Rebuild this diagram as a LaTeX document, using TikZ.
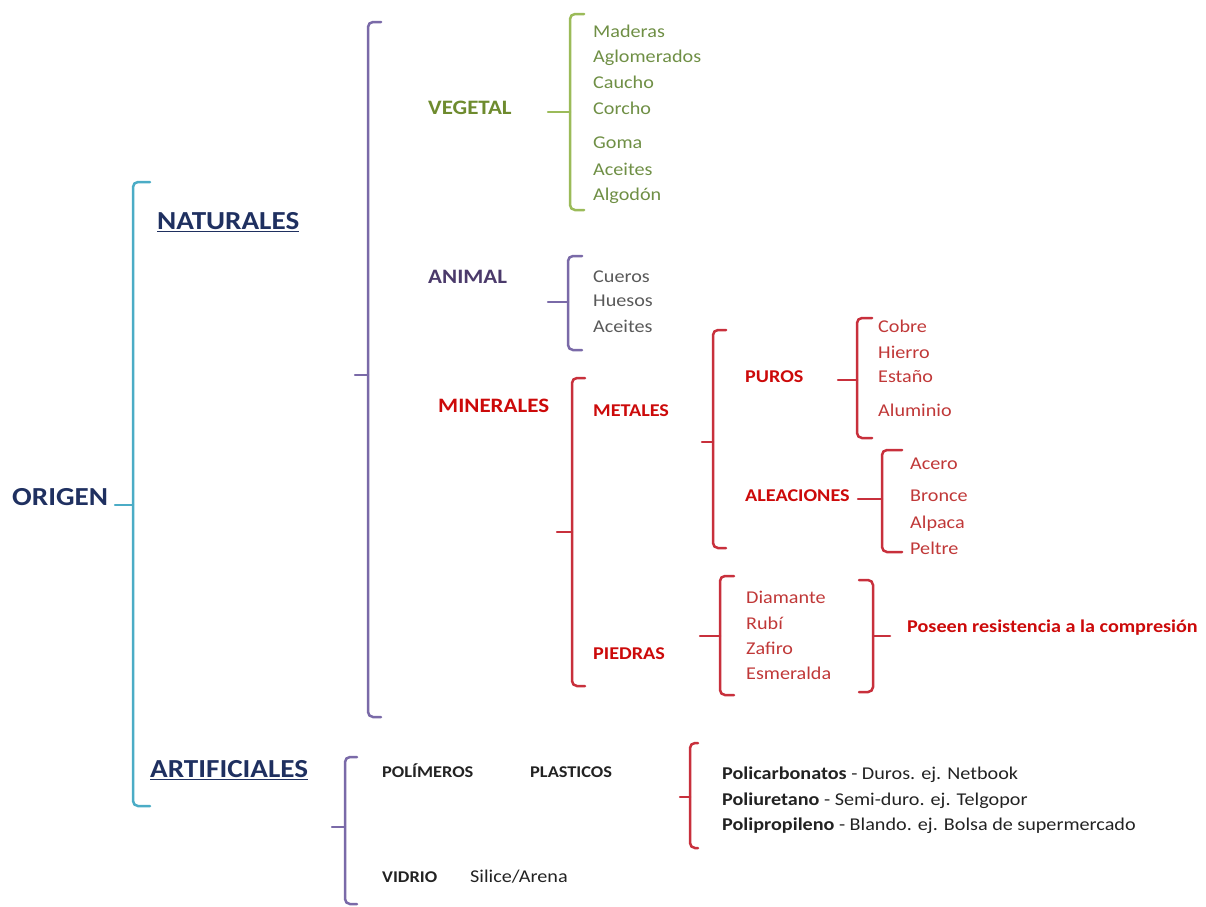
\documentclass[tikz,border=0pt]{standalone}
\usepackage{fontspec}
\setmainfont{Carlito}[FakeStretch=1.12]
\definecolor{cyanb}{HTML}{4BACC6}
\definecolor{purpb}{HTML}{7A6AA8}
\definecolor{greenb}{HTML}{9BBB59}
\definecolor{redb}{HTML}{C8303C}
\definecolor{navy}{HTML}{1F3060}
\definecolor{olive}{HTML}{6E8B2E}
\definecolor{greentxt}{HTML}{6F8F45}
\definecolor{animaltxt}{HTML}{4B3A6B}
\definecolor{graytxt}{HTML}{595959}
\definecolor{redlbl}{HTML}{CC0A0A}
\definecolor{redtxt}{HTML}{C03838}
\definecolor{darktxt}{HTML}{222222}
% color, x, top, bottom, tick y, tick end x, hook length
\newcommand{\bracket}[7]{%
\draw[brace, #1] (#2+#7,#3) -- (#2,#3) -- (#2,#4) -- (#2+#7,#4);
\draw[brace, #1] (#6,#5) -- (#2,#5);}

\begin{document}
\begin{tikzpicture}[x=1pt,y=-1pt,
  brace/.style={line width=2.5pt, rounded corners=5pt, line cap=round},
  lbl/.style={anchor=west, inner sep=0pt, text height=0.7em, text depth=0.2em},
  mainlbl/.style={lbl, font=\fontsize{26}{30}\selectfont\bfseries, text=navy},
  sublbl/.style={lbl, font=\fontsize{20.5}{24}\selectfont\bfseries},
  minorlbl/.style={lbl, font=\fontsize{18}{22}\selectfont\bfseries},
  itemtxt/.style={lbl, font=\fontsize{18}{22}\selectfont},
  plaintxt/.style={lbl, font=\fontsize{18}{21}\selectfont, text=darktxt},
  plainlbl/.style={lbl, font=\fontsize{16.4}{20}\selectfont\bfseries, text=darktxt}]
\useasboundingbox (0,0) rectangle (1206,906);
%\fill[white] (0,0) rectangle (1206,906);

% brackets
\bracket{cyanb}{133}{182}{806}{505}{115}{17}
\bracket{purpb}{368}{22}{717}{375}{355}{13}
\bracket{greenb}{570}{14}{210}{112}{548}{14}
\bracket{purpb}{568}{256}{350}{302}{548}{14}
\bracket{redb}{572}{378}{686}{532}{557}{13}
\bracket{redb}{713}{330}{548}{442}{702}{13}
\bracket{redb}{857}{318}{438}{380}{838}{15}
\bracket{redb}{882}{450}{552}{499}{858}{20}
\bracket{redb}{720}{576}{695}{636}{700}{14}
\bracket{redb}{873}{580}{692}{636}{890}{-14}
\bracket{purpb}{345}{757}{904}{827}{332}{12}
\bracket{redb}{690}{743}{848}{797}{680}{8}

% first level
\node[mainlbl] (origen) at (12,503) {ORIGEN};
\node[mainlbl] (naturales) at (157,227) {\underline{NATURALES}};
\node[mainlbl] (artificiales) at (150,775) {\underline{ARTIFICIALES}};

% naturales
\node[sublbl, text=olive] (vegetal) at (428,112) {VEGETAL};
\node[sublbl, text=animaltxt] (animal) at (428,281) {ANIMAL};
\node[sublbl, text=redlbl] (minerales) at (438,410) {MINERALES};
\node[minorlbl, text=redlbl] (metales) at (593,414) {METALES};
\node[minorlbl, text=redlbl] (piedras) at (593,657) {PIEDRAS};
\node[minorlbl, text=redlbl] (puros) at (745,380) {PUROS};
\node[minorlbl, text=redlbl] (aleaciones) at (745,499) {ALEACIONES};
\node[minorlbl, text=redlbl] (poseen) at (907,630) {Poseen resistencia a la compresión};

\foreach \t/\y/\n in {Maderas/35/mad, Aglomerados/60/agl, Caucho/86/cau,
  Corcho/112/cor, Goma/146/gom, Aceites/173/acv, Algodón/198/alg}
  \node[itemtxt, text=greentxt] (\n) at (593,\y) {\t};
\foreach \t/\y/\n in {Cueros/280/cue, Huesos/304/hue, Aceites/330/aca}
  \node[itemtxt, text=graytxt] (\n) at (593,\y) {\t};
\foreach \t/\y/\n in {Cobre/330/cob, Hierro/356/hie, Estaño/380/est, Aluminio/414/alu}
  \node[itemtxt, text=redtxt] (\n) at (878,\y) {\t};
\foreach \t/\y/\n in {Acero/467/ace, Bronce/499/bro, Alpaca/526/alp, Peltre/552/pel}
  \node[itemtxt, text=redtxt] (\n) at (910,\y) {\t};
\foreach \t/\y/\n in {Diamante/601/dia, Rubí/627/rub, Zafiro/652/zaf, Esmeralda/677/esm}
  \node[itemtxt, text=redtxt] (\n) at (746,\y) {\t};

% artificiales
\node[plainlbl] (polimeros) at (382,775) {POLÍMEROS};
\node[plainlbl] (plasticos) at (530,775) {PLASTICOS};
\node[plainlbl] (vidrio) at (382,880) {VIDRIO};
\node[plaintxt] (silice) at (470,880) {Silice/Arena};
\node[plaintxt] (policarb) at (722,777) {\textbf{Policarbonatos} - Duros. ej. Netbook};
\node[plaintxt] (poliuret) at (722,803) {\textbf{Poliuretano} - Semi-duro. ej. Telgopor};
\node[plaintxt] (poliprop) at (722,828) {\textbf{Polipropileno} - Blando. ej. Bolsa de supermercado};
\end{tikzpicture}
\end{document}
